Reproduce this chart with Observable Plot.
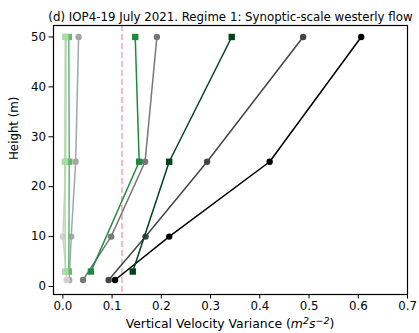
<!DOCTYPE html>
<html>
<head>
<meta charset="utf-8">
<script src="https://cdn.jsdelivr.net/npm/d3@7"></script>
<script src="https://cdn.jsdelivr.net/npm/@observablehq/plot@0.6"></script>
<style>
  html, body { margin: 0; padding: 0; background: white; }
</style>
</head>
<body>
<div id="chart"></div>
<script>
// Measurement heights (m)
const circleHeights = [1.3, 10, 25, 50];
const squareHeights = [3, 25, 50];

// Vertical velocity variance profiles, circle-marker series
const circleNames = ["c1", "c2", "c3", "c4", "c5"];
const circleColors = ["#000000", "#444444", "#777777", "#a6a6a6", "#d0d0d0"];
const circleValues = [
  [0.106, 0.216, 0.420, 0.606],
  [0.093, 0.168, 0.293, 0.488],
  [0.041, 0.098, 0.167, 0.191],
  [0.013, 0.017, 0.026, 0.032],
  [0.008, 0.000, 0.006, 0.007]
];

// Square-marker series
const squareNames = ["s1", "s2", "s3", "s4"];
const squareColors = ["#00441b", "#1f8a3e", "#5dba6e", "#a8dca2"];
const squareValues = [
  [0.142, 0.216, 0.343],
  [0.057, 0.155, 0.147],
  [0.012, 0.013, 0.012],
  [0.005, 0.004, 0.005]
];

// Reference threshold
const thresholdValue = [0.12];

// Axis ticks
const xTicks = [0, 0.1, 0.2, 0.3, 0.4, 0.5, 0.6, 0.7];
const yTicks = [0, 10, 20, 30, 40, 50];

const titleText = "(d) IOP4-19 July 2021. Regime 1: Synoptic-scale westerly flow";
const yLabel = "Height (m)";

// Long-format rows built from the arrays above
const circleRows = circleNames.flatMap((name, i) =>
  circleValues[i].map((v, j) => ({series: name, color: circleColors[i], x: v, y: circleHeights[j]})));
const squareRows = squareNames.flatMap((name, i) =>
  squareValues[i].map((v, j) => ({series: name, color: squareColors[i], x: v, y: squareHeights[j]})));

const font = "DejaVu Sans, sans-serif";
const fs = 11.8;

const chart = Plot.plot({
  width: 419,
  height: 333,
  marginLeft: 53,
  marginRight: 12,
  marginTop: 25,
  marginBottom: 39,
  style: {fontFamily: font, fontSize: fs + "px", color: "black", background: "white"},
  x: {domain: [-0.019, 0.7]},
  y: {domain: [-1.6, 52.3]},
  marks: [
    Plot.ruleX(thresholdValue, {stroke: "#f7a8b8", strokeWidth: 1.6, strokeDasharray: "6,3"}),
    Plot.line(circleRows, {x: "x", y: "y", z: "series", stroke: "color", strokeWidth: 1.5}),
    Plot.dot(circleRows, {x: "x", y: "y", fill: "color", r: 3.2, symbol: "circle"}),
    Plot.line(squareRows, {x: "x", y: "y", z: "series", stroke: "color", strokeWidth: 1.5}),
    Plot.dot(squareRows, {x: "x", y: "y", fill: "color", r: 3.6, symbol: "square"}),
    Plot.frame({stroke: "black", strokeWidth: 1.2}),
    Plot.axisX({ticks: xTicks, tickFormat: d3.format(".1f"), tickSize: 4.5, tickPadding: 3, label: null, fontSize: fs}),
    Plot.axisY({ticks: yTicks, tickFormat: d3.format("d"), tickSize: 4.5, tickPadding: 3, label: null, fontSize: fs}),
    Plot.text([titleText], {frameAnchor: "top", dy: -12.5, fontSize: fs, text: d => d}),
    Plot.text([yLabel], {frameAnchor: "left", dx: -39, rotate: -90, fontSize: fs, text: d => d})
  ]
});

// X-axis title with italic unit expression
const svg = d3.select(chart);
const xl = svg.append("text")
  .attr("x", (53 + 407) / 2)
  .attr("y", 328)
  .attr("text-anchor", "middle")
  .attr("font-family", font)
  .attr("font-size", 12.4)
  .attr("fill", "black");
xl.append("tspan").text("Vertical Velocity Variance (");
xl.append("tspan").attr("font-style", "italic").text("m");
xl.append("tspan").attr("font-style", "italic").attr("font-size", 9.5).attr("dy", -4.5).text("2");
xl.append("tspan").attr("font-style", "italic").attr("dy", 4.5).text("s");
xl.append("tspan").attr("font-style", "italic").attr("font-size", 9.5).attr("dy", -4.5).text("−2");
xl.append("tspan").attr("dy", 4.5).text(")");

document.getElementById("chart").appendChild(chart);
</script>
</body>
</html>
